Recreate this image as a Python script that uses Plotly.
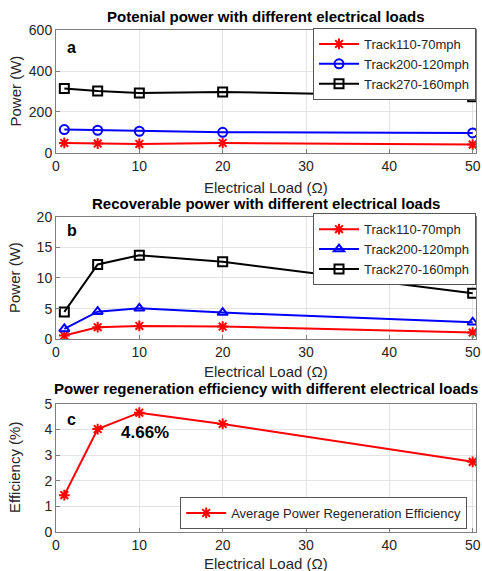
import plotly.graph_objects as go
from plotly.subplots import make_subplots

loads = [1, 5, 10, 20, 50]
series_names = ["Track110-70mph", "Track200-120mph", "Track270-160mph"]
potential_110 = [49, 46, 44, 49, 41]
potential_200 = [114, 111, 106, 101, 98]
potential_270 = [315, 303, 293, 298, 274]
recover_110 = [0.6, 1.96, 2.17, 2.07, 1.09]
recover_200 = [1.68, 4.5, 5.05, 4.35, 2.77]
recover_270 = [4.46, 12.2, 13.7, 12.66, 7.5]
efficiency = [1.44, 4.02, 4.66, 4.22, 2.74]
eff_name = "Average Power Regeneration Efficiency"
titles = ["Potenial power with different electrical loads",
          "Recoverable power with different electrical loads",
          "Power regeneration efficiency with different electrical loads"]
panel_labels = ["a", "b", "c"]
x_ticks = [0, 10, 20, 30, 40, 50]
x_title = "Electrical Load (Ω)"
y_titles = ["Power (W)", "Power (W)", "Efficiency (%)"]

FONT = "Liberation Sans, Arial, sans-serif"
TXT = "#262626"
RED, BLUE, BLACK = "#ff0000", "#0000ff", "#000000"

fig = make_subplots(rows=3, cols=1)

def add(row, y, name, color, symbol, legend):
    fig.add_trace(go.Scatter(
        x=loads, y=y, name=name, mode="lines+markers",
        line=dict(color=color, width=2),
        marker=dict(symbol=symbol, size=9, color=color,
                    line=dict(color=color, width=2)),
        legend=legend), row=row, col=1)

add(1, potential_110, series_names[0], RED, "asterisk-open", "legend")
add(1, potential_200, series_names[1], BLUE, "circle-open", "legend")
add(1, potential_270, series_names[2], BLACK, "square-open", "legend")
add(2, recover_110, series_names[0], RED, "asterisk-open", "legend2")
add(2, recover_200, series_names[1], BLUE, "triangle-up-open", "legend2")
add(2, recover_270, series_names[2], BLACK, "square-open", "legend2")
add(3, efficiency, eff_name, RED, "asterisk-open", "legend3")

# pixel layout: plot x 56..476, plot y 30..532 (height 502)
domains = [(0.755, 1.0), (0.384, 0.628), (0.0, 0.255)]
yranges = [(0, 600, 200), (0, 20, 5), (0, 5, 1)]
title_y = [1.026, 0.655, 0.285]
xtitle_y = [0.687, 0.319, -0.062]
label_y = [517, 17.8, 4.38]

axis_common = dict(showline=True, linecolor="#7f7f7f", linewidth=1, mirror=True,
                   showgrid=True, gridcolor="#e3e3e3", gridwidth=1,
                   ticks="inside", ticklen=4, tickcolor="#7f7f7f", automargin=False,
                   tickfont=dict(family=FONT, size=14, color=TXT), zeroline=False)

for i in range(3):
    xa = "xaxis" if i == 0 else f"xaxis{i+1}"
    ya = "yaxis" if i == 0 else f"yaxis{i+1}"
    fig.layout[xa].update(range=[0, 50.4], tickvals=x_ticks, **axis_common)
    lo, hi, dt = yranges[i]
    fig.layout[ya].update(domain=list(domains[i]), range=[lo, hi], dtick=dt, **axis_common)
    fig.add_annotation(text="<b>" + titles[i] + "</b>", xref="paper", yref="paper",
                       x=0.5, y=title_y[i], xanchor="center", yanchor="middle",
                       showarrow=False, font=dict(family=FONT, size=15, color="#000"))
    fig.add_annotation(text=x_title, xref="paper", yref="paper",
                       x=0.5, y=xtitle_y[i], xanchor="center", yanchor="middle",
                       showarrow=False, font=dict(family=FONT, size=15, color=TXT))
    fig.add_annotation(text=y_titles[i], xref="paper", yref="paper", textangle=-90,
                       x=-0.0976, y=(domains[i][0] + domains[i][1]) / 2,
                       xanchor="center", yanchor="middle",
                       showarrow=False, font=dict(family=FONT, size=15, color=TXT))
    xr = "x" if i == 0 else f"x{i+1}"
    yr = "y" if i == 0 else f"y{i+1}"
    fig.add_annotation(text="<b>" + panel_labels[i] + "</b>", xref=xr, yref=yr,
                       x=1.9, y=label_y[i], xanchor="center", yanchor="middle",
                       showarrow=False, font=dict(family=FONT, size=16, color="#000"))

fig.add_annotation(text="<b>4.66%</b>", xref="x3", yref="y3", x=10.7, y=3.9,
                   xanchor="center", yanchor="middle", showarrow=False,
                   font=dict(family=FONT, size=17, color="#000"))

leg_common = dict(bgcolor="white", bordercolor="#555555", borderwidth=1,
                  font=dict(family=FONT, size=13, color=TXT), itemwidth=40,
                  tracegroupgap=0)
fig.update_layout(
    width=482, height=571, margin=dict(l=56, r=6, t=30, b=39),
    paper_bgcolor="white", plot_bgcolor="white", showlegend=True,
    legend=dict(x=1.0, y=1.004, xanchor="right", yanchor="top", **leg_common),
    legend2=dict(x=1.0, y=0.635, xanchor="right", yanchor="top", **leg_common),
    legend3=dict(x=0.979, y=0.0697, xanchor="right", yanchor="top", **leg_common),
)

fig.write_html("out.html", config={"displayModeBar": False},
               post_script="document.body.style.margin='0';document.body.style.overflow='hidden';")
